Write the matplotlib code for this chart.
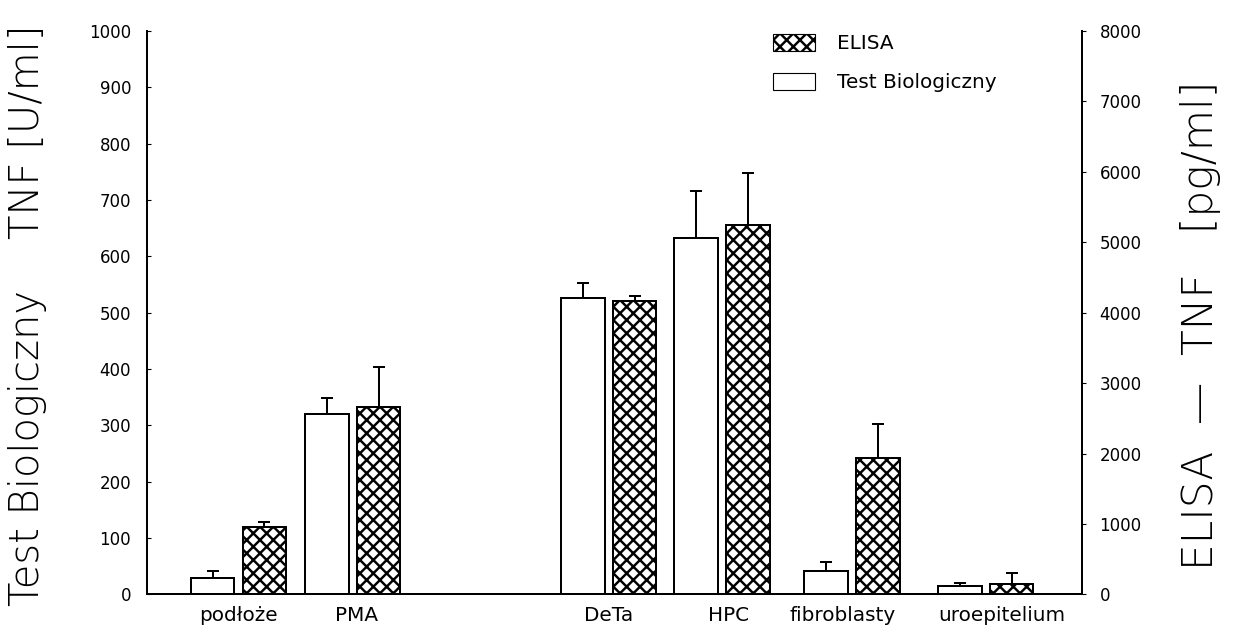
import matplotlib
matplotlib.use('Agg')
import matplotlib.pyplot as plt
from matplotlib.patches import Patch
import numpy as np

# groups along the x axis
categories = ['podłoże', 'PMA', 'DeTa', 'HPC', 'fibroblasty', 'uroepitelium']
group_pos = [0.0, 1.0, 3.24, 4.23, 5.37, 6.54]
label_pos = [0.0, 1.03, 3.24, 4.29, 5.29, 6.68]

# Test Biologiczny, TNF [U/ml] (left axis)
bio_vals = [30, 320, 527, 632, 42, 15]
bio_err = [12, 28, 25, 84, 15, 5]

# ELISA, TNF [pg/ml] (right axis)
elisa_vals = [955, 2660, 4170, 5250, 1940, 145]
elisa_err = [70, 570, 65, 740, 480, 155]

left_ticks = list(range(0, 1001, 100))
right_ticks = list(range(0, 8001, 1000))

plt.rcParams['hatch.linewidth'] = 2.2
plt.rcParams['font.family'] = ['DejaVu Sans']

dpi = 80
fig = plt.figure(figsize=(1243 / dpi, 636 / dpi), dpi=dpi)
ax = fig.add_axes([0.118, 0.0653, 0.7522, 0.886])
ax2 = ax.twinx()

x = np.array(group_pos)
w = 0.38
off = 0.227
lw = 1.8

ax.bar(x - off, bio_vals, width=w, color='white', edgecolor='black',
       linewidth=lw, zorder=2)
ax.errorbar(x - off, bio_vals, yerr=[np.zeros(len(bio_err)), bio_err],
            fmt='none', ecolor='black', elinewidth=lw, capsize=5.5,
            capthick=lw, zorder=1)

ax2.bar(x + off, elisa_vals, width=w, color='white', edgecolor='black',
        hatch='xx', linewidth=lw, zorder=2)
ax2.errorbar(x + off, elisa_vals, yerr=[np.zeros(len(elisa_err)), elisa_err],
             fmt='none', ecolor='black', elinewidth=lw, capsize=5.5,
             capthick=lw, zorder=1)

ax.set_xlim(-0.804, 7.379)
ax.set_ylim(0, 1000)
ax2.set_ylim(0, 8000)
ax.set_yticks(left_ticks)
ax2.set_yticks(right_ticks)
ax.set_xticks(label_pos)
ax.set_xticklabels(categories, fontsize=18)
ax.tick_params(axis='x', length=0, pad=10)
ax.tick_params(axis='y', direction='in', length=4, width=1, labelsize=15, pad=14)
ax2.tick_params(axis='y', direction='out', length=4, width=1, labelsize=15, pad=12)

for a in (ax, ax2):
    a.spines['top'].set_visible(False)
    for s in ('left', 'right', 'bottom'):
        a.spines[s].set_linewidth(lw)

fig.text(0.022, 0.505, 'Test Biologiczny    TNF [U/ml]', rotation=90,
         fontsize=36, fontweight='light', ha='center', va='center')
fig.text(0.966, 0.489, 'ELISA  \u2014  TNF   [pg/ml]', rotation=90,
         fontsize=38, fontweight='light', ha='center', va='center')

handles = [Patch(facecolor='white', edgecolor='black', hatch='xx', linewidth=1),
           Patch(facecolor='white', edgecolor='black', linewidth=1)]
ax2.legend(handles, ['ELISA', 'Test Biologiczny'], loc='upper left',
           bbox_to_anchor=(773 / 1243, 1 - 34 / 636),
           bbox_transform=fig.transFigure, frameon=False, fontsize=18,
           handlelength=2.1, handleheight=0.9, handletextpad=1.1,
           labelspacing=1.0, borderpad=0, borderaxespad=0)

fig.savefig('out.png', dpi=dpi)
